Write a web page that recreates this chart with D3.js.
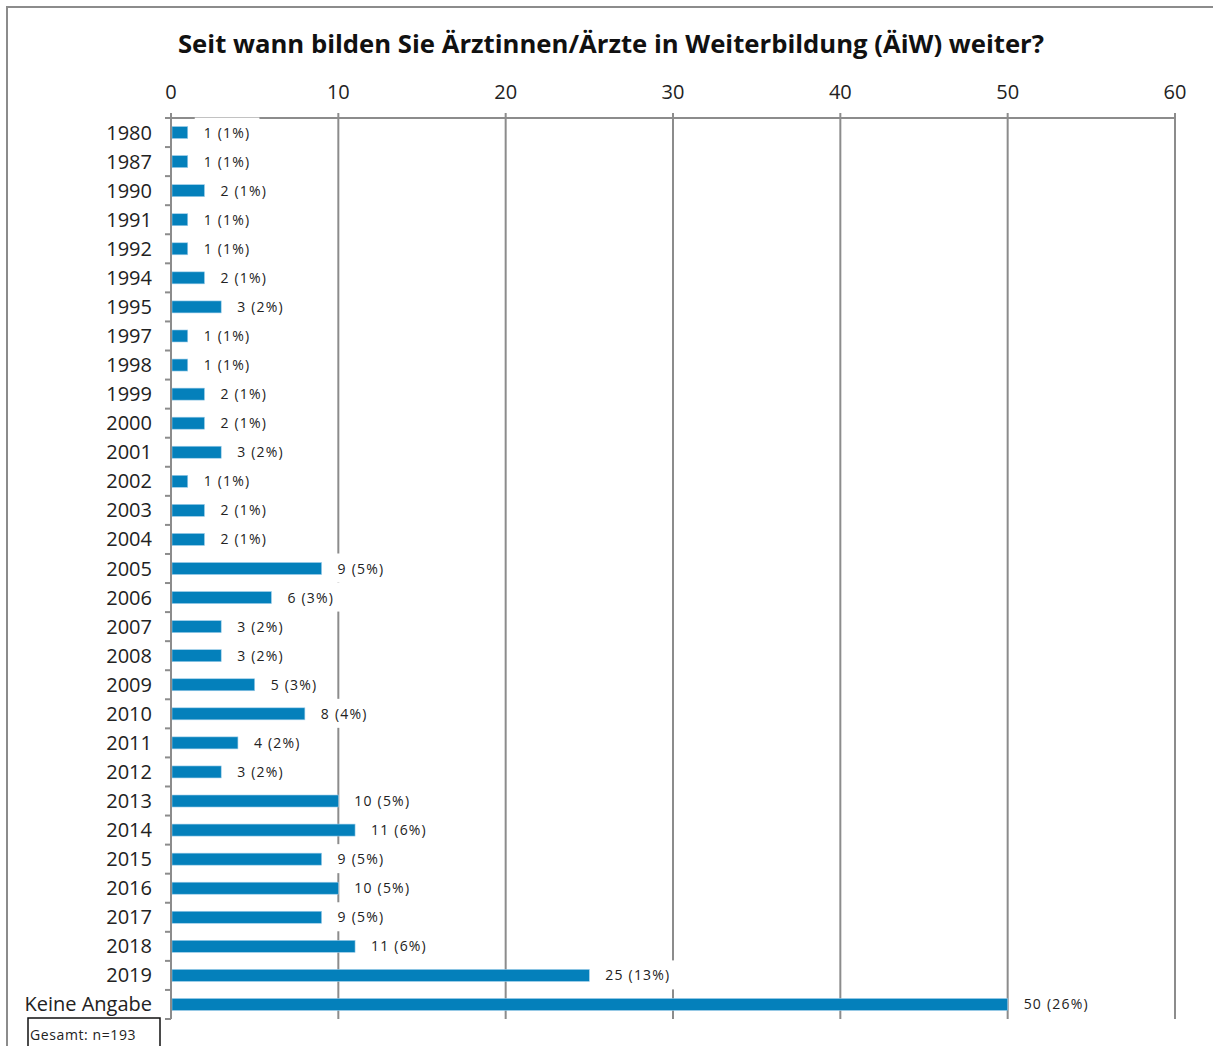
<!DOCTYPE html>
<html><head><meta charset="utf-8">
<script src="https://cdn.jsdelivr.net/npm/d3@7"></script>
<style>
html,body{margin:0;padding:0;background:#fff;}
svg{display:block;}
text{font-family:"Open Sans","Noto Sans",sans-serif;}
</style></head>
<body>
<script>
const categories = ["1980","1987","1990","1991","1992","1994","1995","1997","1998","1999","2000","2001","2002","2003","2004","2005","2006","2007","2008","2009","2010","2011","2012","2013","2014","2015","2016","2017","2018","2019","Keine Angabe"];
const counts = [1,1,2,1,1,2,3,1,1,2,2,3,1,2,2,9,6,3,3,5,8,4,3,10,11,9,10,9,11,25,50];
const percents = ["1%","1%","1%","1%","1%","1%","2%","1%","1%","1%","1%","2%","1%","1%","1%","5%","3%","2%","2%","3%","4%","2%","2%","5%","6%","5%","5%","5%","6%","13%","26%"];
const xTicks = [0,10,20,30,40,50,60];
const titleText = "Seit wann bilden Sie Ärztinnen/Ärzte in Weiterbildung (ÄiW) weiter?";
const noteText = "Gesamt: n=193";

(function(){
const W = 1213, H = 1046;
const svg = d3.select("body").append("svg").attr("width", W).attr("height", H);

svg.append("rect").attr("x",7).attr("y",7).attr("width",W+20).attr("height",H+20)
  .attr("fill","none").attr("stroke","#8c8c8c").attr("stroke-width",2);

const pL = 171, pR = 1175, pT = 118, pB = 1019;
const x = d3.scaleLinear().domain([0,60]).range([pL,pR]);
const y = d3.scaleBand().domain(categories).range([pT,pB]).paddingInner(0).paddingOuter(0);
const barH = 12;

svg.append("text").attr("x",611).attr("y",53).attr("text-anchor","middle")
  .attr("font-size",25.7).attr("font-weight","bold").attr("fill","#111").text(titleText);

const g = svg.append("g");
g.selectAll("line.grid").data(xTicks).join("line")
  .attr("x1",d=>x(d)).attr("x2",d=>x(d)).attr("y1",pT-5).attr("y2",pB)
  .attr("stroke","#8c8c8c").attr("stroke-width",2);
g.append("line").attr("x1",pL).attr("x2",pR).attr("y1",pT).attr("y2",pT)
  .attr("stroke","#8c8c8c").attr("stroke-width",2);
g.selectAll("text.xt").data(xTicks).join("text")
  .attr("x",d=>x(d)).attr("y",99).attr("text-anchor","middle")
  .attr("font-size",20).attr("fill","#222").text(d=>d);

const bounds = categories.map(c=>y(c)).concat([pB]);
g.selectAll("line.yt").data(bounds).join("line")
  .attr("x1",pL-6).attr("x2",pL).attr("y1",d=>d).attr("y2",d=>d)
  .attr("stroke","#8c8c8c").attr("stroke-width",2);

g.selectAll("rect.bar").data(categories).join("rect")
  .attr("x",pL+1).attr("y",d=>y(d)+y.bandwidth()/2-barH/2)
  .attr("width",(d,i)=>x(counts[i])-pL-1).attr("height",barH)
  .attr("fill","#0480bb").attr("stroke","#9fcdea").attr("stroke-width",0.6);

const lab = g.selectAll("g.lab").data(categories).join("g")
  .attr("transform",(d,i)=>`translate(${x(counts[i])+16},${y(d)+y.bandwidth()/2})`);
lab.append("text").attr("x",0).attr("y",5).attr("font-size",14).attr("letter-spacing",1.2).attr("fill","#222")
  .text((d,i)=>`${counts[i]} (${percents[i]})`);
lab.each(function(){
  const t = d3.select(this).select("text");
  const bb = t.node().getBBox();
  d3.select(this).insert("rect","text").attr("x",bb.x-9).attr("y",-15)
    .attr("width",bb.width+18).attr("height",29).attr("fill","#fff");
});

g.selectAll("text.yl").data(categories).join("text")
  .attr("x",152).attr("y",d=>y(d)+y.bandwidth()/2+7).attr("text-anchor","end")
  .attr("font-size",20).attr("fill","#222").text(d=>d);

g.append("line").attr("x1",pL).attr("x2",pL).attr("y1",pT-5).attr("y2",pB)
  .attr("stroke","#8c8c8c").attr("stroke-width",2);

svg.append("rect").attr("x",28).attr("y",1018).attr("width",132).attr("height",40)
  .attr("fill","#fff").attr("stroke","#111").attr("stroke-width",1.5);
svg.append("text").attr("x",30).attr("y",1040).attr("font-size",14).attr("letter-spacing",0.6).attr("fill","#222").text(noteText);
})();
</script>
</body></html>
